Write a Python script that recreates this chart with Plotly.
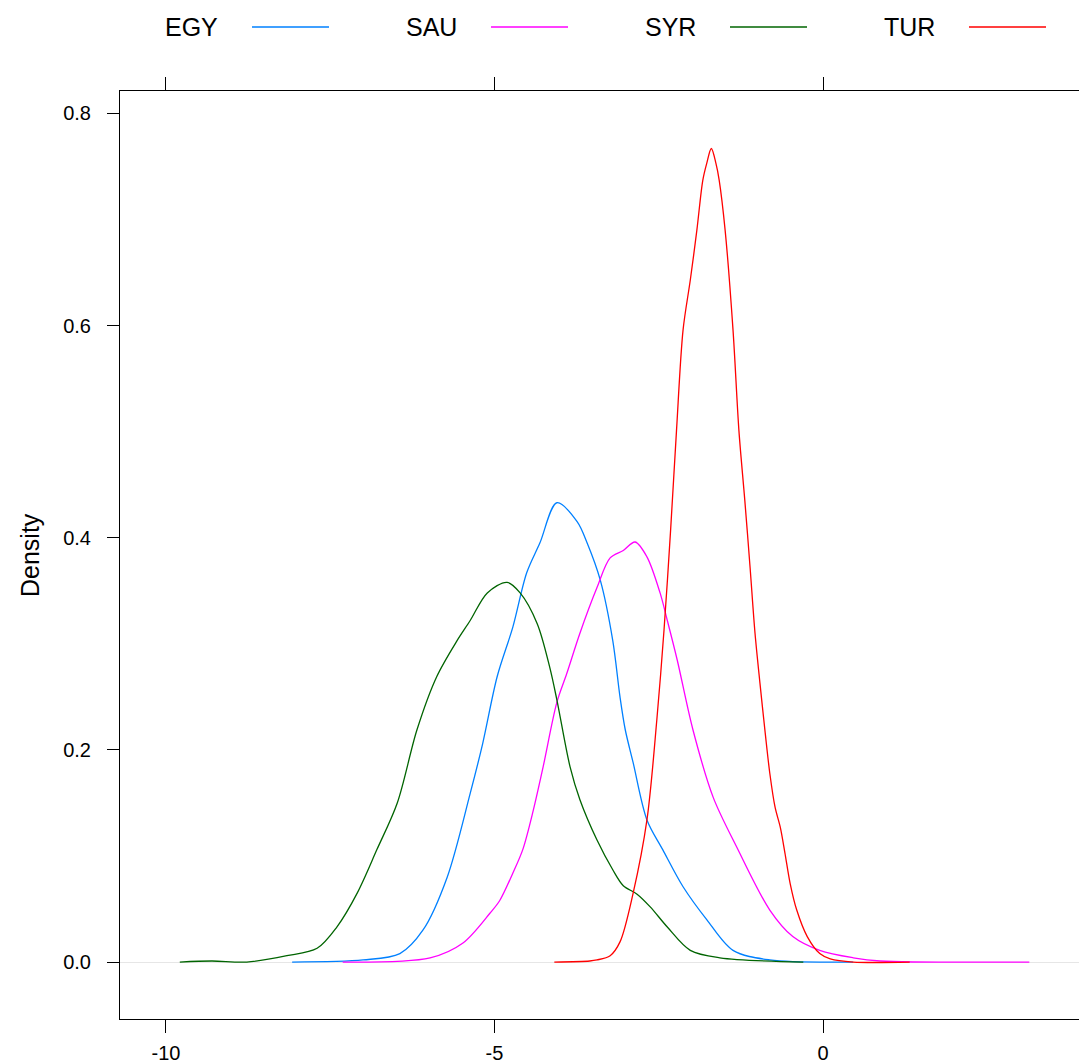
import plotly.graph_objects as go

# ---- data ----
countries = ["EGY", "SAU", "SYR", "TUR"]
colors = ["#0080ff", "#ff00ff", "#006400", "#ff0000"]

egy_x = [-8.08, -7.00, -6.44, -6.09, -5.72, -5.37, -5.18, -4.96, -4.72, -4.51, -4.31, -4.05,
         -3.74, -3.59, -3.39, -3.20, -3.09, -3.01, -2.89, -2.68, -2.44, -2.13, -1.77, -1.37,
         -0.81, 0.46]
egy_y = [0.0, 0.002, 0.008, 0.030, 0.080, 0.159, 0.206, 0.269, 0.316, 0.367, 0.395, 0.433,
         0.415, 0.395, 0.360, 0.303, 0.250, 0.219, 0.188, 0.134, 0.106, 0.071, 0.040, 0.011,
         0.002, 0.0]

sau_x = [-7.31, -5.98, -5.48, -5.07, -4.92, -4.72, -4.57, -4.41, -4.26, -4.05, -3.90, -3.70,
         -3.44, -3.24, -3.04, -2.86, -2.68, -2.48, -2.37, -2.22, -1.98, -1.67, -1.31, -0.81,
         -0.46, -0.05, 0.46, 0.87, 3.14]
sau_y = [0.0, 0.004, 0.018, 0.046, 0.058, 0.084, 0.106, 0.143, 0.184, 0.245, 0.272, 0.310,
         0.353, 0.381, 0.388, 0.396, 0.382, 0.348, 0.322, 0.285, 0.219, 0.155, 0.108, 0.049,
         0.024, 0.011, 0.004, 0.001, 0.0]

syr_x = [-9.79, -9.30, -8.77, -8.16, -7.70, -7.40, -7.09, -6.79, -6.48, -6.18, -5.88, -5.57,
         -5.37, -5.11, -4.81, -4.61, -4.35, -4.16, -4.05, -3.85, -3.70, -3.44, -3.20, -3.04,
         -2.83, -2.63, -2.37, -2.02, -1.57, -0.30]
syr_y = [0.0, 0.001, 0.0, 0.006, 0.013, 0.033, 0.065, 0.106, 0.150, 0.219, 0.269, 0.303,
         0.322, 0.348, 0.358, 0.348, 0.319, 0.278, 0.247, 0.184, 0.153, 0.115, 0.087, 0.072,
         0.064, 0.052, 0.033, 0.011, 0.004, 0.0]

tur_x = [-4.09, -3.55, -3.44, -3.24, -3.09, -2.89, -2.68, -2.53, -2.42, -2.32, -2.23, -2.13,
         -2.02, -1.92, -1.83, -1.77, -1.70, -1.63, -1.58, -1.49, -1.37, -1.28, -1.19, -1.11,
         -1.035, -0.96, -0.88, -0.81, -0.73, -0.65, -0.58, -0.50, -0.40, -0.24, -0.05, 0.11,
         0.46, 1.32]
tur_y = [0.0, 0.001, 0.002, 0.006, 0.019, 0.065, 0.134, 0.228, 0.313, 0.407, 0.501, 0.596,
         0.643, 0.690, 0.737, 0.753, 0.767, 0.753, 0.737, 0.690, 0.596, 0.501, 0.435, 0.372,
         0.310, 0.263, 0.216, 0.178, 0.146, 0.127, 0.103, 0.074, 0.049, 0.024, 0.008, 0.003,
         0.0, 0.0]

x_ticks = [-10, -5, 0]
x_tick_labels = ["-10", "-5", "0"]
y_ticks = [0.0, 0.2, 0.4, 0.6, 0.8]
y_tick_labels = ["0.0", "0.2", "0.4", "0.6", "0.8"]

series = {
    "EGY": (egy_x, egy_y),
    "SAU": (sau_x, sau_y),
    "SYR": (syr_x, syr_y),
    "TUR": (tur_x, tur_y),
}

FONT = "Liberation Sans, Arial, Helvetica, sans-serif"

fig = go.Figure()
for name, col in zip(countries, colors):
    xs, ys = series[name]
    fig.add_trace(go.Scatter(
        x=xs, y=ys, mode="lines", name=name,
        line=dict(color=col, width=1.3, shape="spline", smoothing=0.9),
        showlegend=False, hoverinfo="skip",
    ))

W, H = 1079, 1064
ml, mr, mt, mb = 120, 0, 91, 45
pw = W - ml - mr
ph = H - mt - mb

def px_x(p):
    return (p - ml) / pw

def px_y(p):
    return (H - mb - p) / ph

# custom legend on top: text then line sample
shapes = []
annotations = []
for i, (name, col) in enumerate(zip(countries, colors)):
    text_right = 220 + i * 239
    line_start = text_right + 32
    line_end = line_start + 77
    annotations.append(dict(
        x=px_x(text_right), y=px_y(27), xref="paper", yref="paper",
        text=name, showarrow=False, xanchor="right", yanchor="middle",
        font=dict(family=FONT, size=25, color="black"),
    ))
    shapes.append(dict(
        type="line", xref="paper", yref="paper",
        x0=px_x(line_start), x1=px_x(line_end), y0=px_y(27), y1=px_y(27),
        line=dict(color=col, width=1.3),
    ))

annotations.append(dict(
    x=px_x(30), y=0.5, xref="paper", yref="paper", text="Density",
    textangle=-90, showarrow=False, xanchor="center", yanchor="middle",
    font=dict(family=FONT, size=25, color="black"),
))

fig.update_layout(
    width=W, height=H,
    margin=dict(l=ml, r=mr, t=mt, b=mb, pad=0, autoexpand=False),
    paper_bgcolor="white", plot_bgcolor="white",
    shapes=shapes, annotations=annotations,
    xaxis=dict(
        range=[-10.70, 3.896], tickvals=x_ticks, ticktext=x_tick_labels,
        showgrid=False, zeroline=False, showline=True, linecolor="black", linewidth=1,
        mirror="ticks", ticks="outside", ticklen=13, tickcolor="black", tickwidth=1,
        ticklabelstandoff=3, automargin=False,
        tickfont=dict(family=FONT, size=20, color="black"),
    ),
    yaxis=dict(
        range=[-0.0537, 0.8212], tickvals=y_ticks, ticktext=y_tick_labels,
        showgrid=False, zeroline=True, zerolinecolor="#e6e6e6", zerolinewidth=1,
        showline=True, linecolor="black", linewidth=1, mirror=False,
        ticks="outside", ticklen=12, tickcolor="black", tickwidth=1,
        ticklabelstandoff=12, automargin=False,
        tickfont=dict(family=FONT, size=20, color="black"),
    ),
)

fig.write_html(
    "out.html",
    config={"displayModeBar": False, "staticPlot": True},
    post_script="document.body.style.margin='0';document.body.style.overflow='hidden';",
)
